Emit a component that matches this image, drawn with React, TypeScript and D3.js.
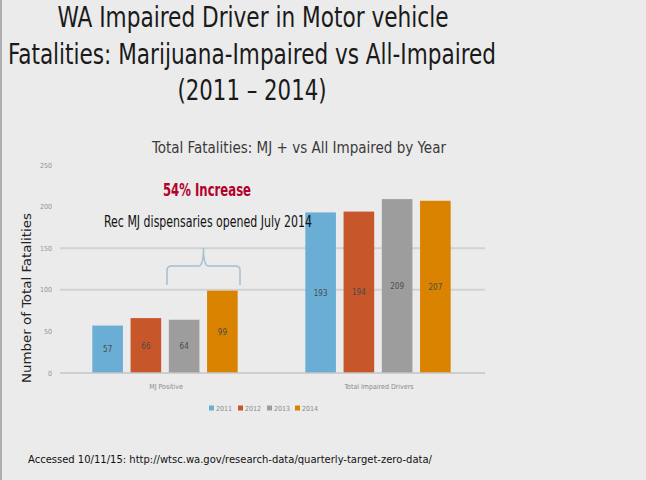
import { useEffect, useRef } from 'react'
import * as d3 from 'd3'

const groups = ['MJ Positive', 'Total Impaired Drivers']
const years = ['2011', '2012', '2013', '2014']
const mjPositive = [57, 66, 64, 99]
const totalImpaired = [193, 194, 209, 207]
const yTicks = [0, 50, 100, 150, 200, 250]
const gridTicks = [100, 150]
const yearColors = ['#6aaed6', '#c8562b', '#9d9d9d', '#d98300']

const titleLines = [
  'WA Impaired Driver in Motor vehicle',
  'Fatalities: Marijuana-Impaired vs All-Impaired',
  '(2011 \u2013 2014)',
]

const W = 646
const H = 480
const FONT = '"Liberation Sans Narrow", "DejaVu Sans Condensed", "Open Sans", sans-serif'

export default function App() {
  const ref = useRef<SVGSVGElement | null>(null)

  useEffect(() => {
    const svg = d3.select(ref.current)
    svg.selectAll('*').remove()
    svg.attr('width', W).attr('height', H).style('font-family', FONT)

    svg.append('rect').attr('width', W).attr('height', H).attr('fill', '#ebebeb')
    svg.append('line').attr('x1', 1).attr('x2', 1).attr('y1', 0).attr('y2', H)
      .attr('stroke', '#9a9a9a').attr('stroke-width', 1.5)

    // slide title
    const titleSpec = [
      { x: 253, y: 27, len: 391 },
      { x: 252, y: 64, len: 488 },
      { x: 252, y: 100, len: 149 },
    ]
    titleLines.forEach((t, i) => {
      svg.append('text')
        .attr('x', titleSpec[i].x)
        .attr('y', titleSpec[i].y)
        .attr('text-anchor', 'middle')
        .attr('textLength', titleSpec[i].len)
        .attr('lengthAdjust', 'spacingAndGlyphs')
        .attr('fill', '#1a1a1a')
        .style('font-size', '28px')
        .text(t)
    })

    svg.append('text')
      .attr('x', 299).attr('y', 153)
      .attr('text-anchor', 'middle')
      .attr('textLength', 294).attr('lengthAdjust', 'spacingAndGlyphs')
      .attr('fill', '#3a3a3a')
      .style('font-size', '16px')
      .text('Total Fatalities: MJ +  vs All Impaired by Year')

    const y = d3.scaleLinear().domain([0, 250]).range([373, 165])
    const x0 = d3.scaleBand<string>().domain(groups).range([58.5, 484.5])
    const x1 = d3.scaleBand<string>().domain(years).range([30, 183]).paddingInner(0.2).paddingOuter(0.1)

    // gridlines
    svg.selectAll('line.grid').data(gridTicks).enter().append('line')
      .attr('class', 'grid')
      .attr('x1', 60).attr('x2', 485)
      .attr('y1', (d) => y(d)).attr('y2', (d) => y(d))
      .attr('stroke', '#d2d2d2').attr('stroke-width', 2)

    // y tick labels
    svg.selectAll('text.yt').data(yTicks).enter().append('text')
      .attr('class', 'yt')
      .attr('x', 52).attr('y', (d) => y(d) + 2.5)
      .attr('text-anchor', 'end')
      .attr('fill', '#939393')
      .style('font-size', '7px')
      .text((d) => d)

    svg.append('text')
      .attr('transform', `translate(31,298) rotate(-90)`)
      .attr('text-anchor', 'middle')
      .attr('textLength', 170).attr('lengthAdjust', 'spacingAndGlyphs')
      .attr('fill', '#222')
      .style('font-size', '13px')
      .text('Number of Total Fatalities')

    const series = [mjPositive, totalImpaired]
    groups.forEach((gName, gi) => {
      const g = svg.append('g').attr('transform', `translate(${x0(gName)},0)`)
      years.forEach((yr, i) => {
        const v = series[gi][i]
        g.append('rect')
          .attr('x', x1(yr)!)
          .attr('y', y(v))
          .attr('width', x1.bandwidth())
          .attr('height', y(0) - y(v))
          .attr('fill', yearColors[i])
        g.append('text')
          .attr('x', x1(yr)! + x1.bandwidth() / 2)
          .attr('y', (y(v) + y(0)) / 2 + 3)
          .attr('text-anchor', 'middle')
          .attr('fill', '#4a4a4a')
          .style('font-size', '8px')
          .text(v)
      })
      g.append('text')
        .attr('x', x0.bandwidth() / 2 + 1)
        .attr('y', 389)
        .attr('text-anchor', 'middle')
        .attr('fill', '#8a8a8a')
        .style('font-size', '7px')
        .text(gName)
    })

    // baseline
    svg.append('line').attr('x1', 60).attr('x2', 485).attr('y1', y(0)).attr('y2', y(0))
      .attr('stroke', '#c4c4c4').attr('stroke-width', 1.5)

    // legend
    const legendX = [209, 238, 267, 295]
    years.forEach((yr, i) => {
      svg.append('rect').attr('x', legendX[i]).attr('y', 405.5)
        .attr('width', 5).attr('height', 5).attr('fill', yearColors[i])
      svg.append('text').attr('x', legendX[i] + 7).attr('y', 410.5)
        .attr('fill', '#8a8a8a').style('font-size', '7px').text(yr)
    })

    // annotation
    svg.append('text')
      .attr('x', 207).attr('y', 196)
      .attr('text-anchor', 'middle')
      .attr('textLength', 88).attr('lengthAdjust', 'spacingAndGlyphs')
      .attr('fill', '#b3002d')
      .style('font-size', '18px').style('font-weight', 'bold')
      .text('54% Increase')
    svg.append('text')
      .attr('x', 208).attr('y', 227)
      .attr('text-anchor', 'middle')
      .attr('textLength', 208).attr('lengthAdjust', 'spacingAndGlyphs')
      .attr('fill', '#111')
      .style('font-size', '15px')
      .text('Rec MJ dispensaries opened July 2014')

    // brace over MJ 2012-2014
    const bx0 = 167, bx1 = 240, bm = 203.5, bTop = 248, bMid = 266, bBot = 285
    const brace = d3.path()
    brace.moveTo(bx0, bBot)
    brace.lineTo(bx0, bMid + 4)
    brace.quadraticCurveTo(bx0, bMid, bx0 + 5, bMid)
    brace.lineTo(bm - 5, bMid)
    brace.quadraticCurveTo(bm, bMid, bm, bTop)
    brace.quadraticCurveTo(bm, bMid, bm + 5, bMid)
    brace.lineTo(bx1 - 5, bMid)
    brace.quadraticCurveTo(bx1, bMid, bx1, bMid + 4)
    brace.lineTo(bx1, bBot)
    svg.append('path').attr('d', brace.toString())
      .attr('fill', 'none').attr('stroke', '#a7bfcf').attr('stroke-width', 1.5)

    svg.append('text')
      .attr('x', 28).attr('y', 463)
      .attr('textLength', 404).attr('lengthAdjust', 'spacingAndGlyphs')
      .attr('fill', '#111')
      .style('font-size', '11px')
      .text('Accessed 10/11/15: http://wtsc.wa.gov/research-data/quarterly-target-zero-data/')
  }, [])

  return <svg ref={ref} style={{ position: 'absolute', left: 0, top: 0 }} />
}
